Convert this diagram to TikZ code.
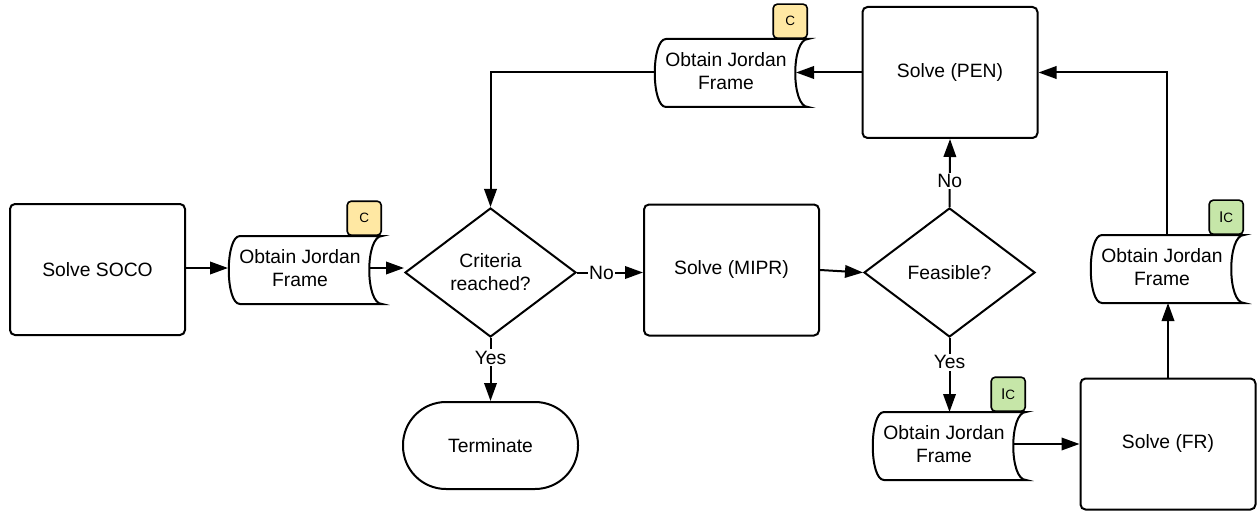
\documentclass[tikz,border=0pt]{standalone}
\usepackage{fontspec}
\setmainfont{Liberation Sans}
\usetikzlibrary{shapes.geometric,arrows.meta,calc}
\definecolor{cyel}{HTML}{FFE8A3}
\definecolor{cgrn}{HTML}{C6E6A8}
% store node text is centred 5pt left and 2pt above the drawn shape
\newcommand\storeshape[1]{\draw ($(#1.north west)+(17,2)$) -- ($(#1.north east)+(5,2)$) .. controls +(-17,0) and +(-17,0) .. ($(#1.south east)+(5,2)$) -- ($(#1.south west)+(17,2)$) .. controls +(-15,0) and +(-15,0) .. ($(#1.north west)+(17,2)$) -- cycle;}
\begin{document}
\begin{tikzpicture}[x=1pt,y=-1pt,line width=2pt,
  font=\fontsize{19.3}{23}\selectfont,
  box/.style={draw,rounded corners=5pt,minimum width=175pt,minimum height=131pt,align=center,inner sep=0pt},
  dec/.style={draw,diamond,aspect=1.33,minimum width=171pt,minimum height=129pt,inner sep=0pt,align=center},
  store/.style={minimum width=152pt,minimum height=66pt,inner sep=0pt,align=center},
  badge/.style={draw,rounded corners=4pt,minimum size=34pt,inner sep=0pt,line width=1.6pt,anchor=south east,font=\fontsize{13.5}{13.5}\selectfont},
  term/.style={draw,rounded corners=43pt,minimum width=175pt,minimum height=87pt,inner sep=0pt},
  arr/.style={-{Triangle[length=18pt,width=12.5pt]}},
  lbl/.style={fill=white,inner sep=1.5pt}]
\useasboundingbox (0,0) rectangle (1260,513);
% nodes
\node[box] (soco) at (97.5,269.5) {Solve SOCO};
\node[store] (s1) at (300,268) {Obtain Jordan\\Frame};
\node[dec] (crit) at (490.5,272.5) {Criteria\\reached?};
\node[box] (mipr) at (731.5,270) {Solve (MIPR)};
\node[dec] (feas) at (949.5,272.5) {Feasible?};
\node[box] (pen) at (950,72.5) {Solve (PEN)};
\node[store] (stop) at (726,71) {Obtain Jordan\\Frame};
\node[store] (sbot) at (944,444) {Obtain Jordan\\Frame};
\node[store] (sr) at (1162,267) {Obtain Jordan\\Frame};
\node[box] (fr) at (1168,444) {Solve (FR)};
\node[term] (term) at (490.5,445.5) {Terminate};
\storeshape{s1}
\storeshape{stop}
\storeshape{sbot}
\storeshape{sr}
\node[badge,fill=cyel] (b1) at ($(s1.north east)+(5,2)$) {C};
\node[badge,fill=cyel] (b2) at ($(stop.north east)+(5,2)$) {C};
\node[badge,fill=cgrn] (b3) at ($(sbot.north east)+(5,2)$) {{\fontsize{15.5}{15.5}\selectfont I}C};
\node[badge,fill=cgrn] (b4) at ($(sr.north east)+(5,2)$) {{\fontsize{15.5}{15.5}\selectfont I}C};
% connectors
\draw[arr] (soco.east |- s1.east) -- ($(s1.west)+(5,0)$);
\draw[arr] ($(s1.east)+(-7,0)$) -- (crit.west |- s1.east);
\draw[arr] (crit.east) -- node[lbl,pos=0.37] (ln1) {No} (mipr.west |- crit.east);
\draw[arr] (mipr.east) -- (feas.west);
\draw[arr] (feas.north) -- node[lbl,pos=0.38] (ln2) {No} (pen.south);
\draw[arr] (feas.south) -- node[lbl,pos=0.33] (ly1) {Yes} ($(feas.south |- sbot.north)+(0,2)$);
\draw[arr] ($(sbot.east)+(-7,0)$) -- (fr.west |- sbot.east);
\draw[arr] (fr.north) -- ($(fr.north |- sr.south)+(0,2)$);
\draw[arr] ($(sr.north)+(5,2)$) |- (pen.east);
\draw[arr] (pen.west) -- ($(stop.east |- pen.west)+(-7,0)$);
\draw ($(stop.west |- pen.west)+(5,0)$) -| ($(crit.north)+(0,-40)$) coordinate (cbend);
\draw[arr] (cbend) -- (crit.north);
\draw[arr] (crit.south) -- node[lbl,pos=0.31] (ly2) {Yes} (term.north);
\end{tikzpicture}
\end{document}
